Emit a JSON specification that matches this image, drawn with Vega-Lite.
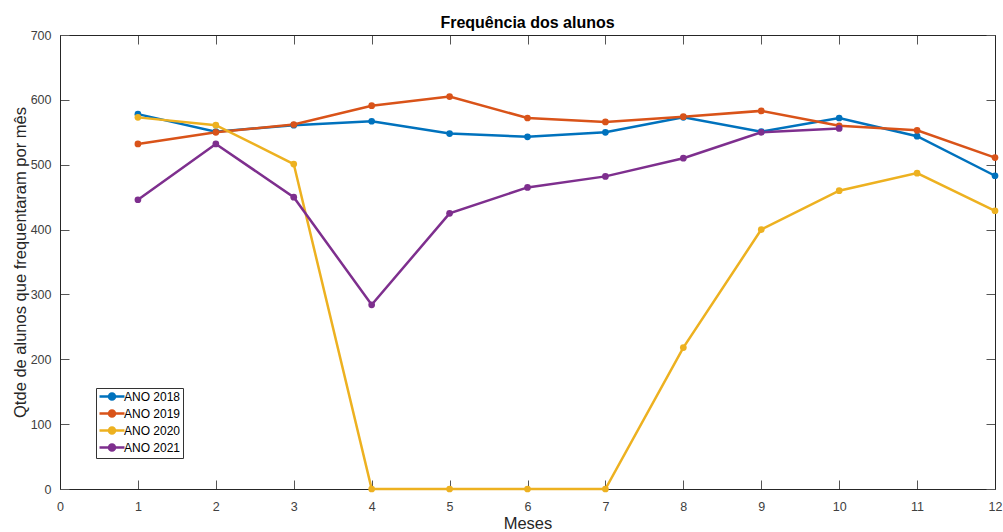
{
  "$schema": "https://vega.github.io/schema/vega-lite/v6.json",
  "width": 935,
  "height": 454,
  "autosize": {"type": "none"},
  "padding": {"left": 60, "top": 35, "right": 8, "bottom": 43},
  "background": "white",
  "config": {
    "font": "Liberation Sans",
    "view": {"stroke": null},
    "axis": {"grid": false, "domainColor": "#262626", "domainWidth": 1, "tickColor": "#555555", "tickSize": -9, "tickWidth": 1, "labelColor": "#404040", "labelFontSize": 12.5, "titleColor": "#262626", "titleFontWeight": "normal", "titleFontSize": 16.5}
  },
  "title": {"text": "Frequência dos alunos", "fontSize": 16, "fontWeight": "bold", "color": "#000000", "offset": -2, "anchor": "middle"},
  "data": {"values": [
    {"mes": 1, "ano": "ANO 2018", "qtd": 578},
    {"mes": 2, "ano": "ANO 2018", "qtd": 551},
    {"mes": 3, "ano": "ANO 2018", "qtd": 561},
    {"mes": 4, "ano": "ANO 2018", "qtd": 567},
    {"mes": 5, "ano": "ANO 2018", "qtd": 548},
    {"mes": 6, "ano": "ANO 2018", "qtd": 543},
    {"mes": 7, "ano": "ANO 2018", "qtd": 550},
    {"mes": 8, "ano": "ANO 2018", "qtd": 573},
    {"mes": 9, "ano": "ANO 2018", "qtd": 551},
    {"mes": 10, "ano": "ANO 2018", "qtd": 572},
    {"mes": 11, "ano": "ANO 2018", "qtd": 544},
    {"mes": 12, "ano": "ANO 2018", "qtd": 483},
    {"mes": 1, "ano": "ANO 2019", "qtd": 532},
    {"mes": 2, "ano": "ANO 2019", "qtd": 550},
    {"mes": 3, "ano": "ANO 2019", "qtd": 562},
    {"mes": 4, "ano": "ANO 2019", "qtd": 591},
    {"mes": 5, "ano": "ANO 2019", "qtd": 605},
    {"mes": 6, "ano": "ANO 2019", "qtd": 572},
    {"mes": 7, "ano": "ANO 2019", "qtd": 566},
    {"mes": 8, "ano": "ANO 2019", "qtd": 574},
    {"mes": 9, "ano": "ANO 2019", "qtd": 583},
    {"mes": 10, "ano": "ANO 2019", "qtd": 560},
    {"mes": 11, "ano": "ANO 2019", "qtd": 553},
    {"mes": 12, "ano": "ANO 2019", "qtd": 511},
    {"mes": 1, "ano": "ANO 2020", "qtd": 573},
    {"mes": 2, "ano": "ANO 2020", "qtd": 561},
    {"mes": 3, "ano": "ANO 2020", "qtd": 501},
    {"mes": 4, "ano": "ANO 2020", "qtd": 0},
    {"mes": 5, "ano": "ANO 2020", "qtd": 0},
    {"mes": 6, "ano": "ANO 2020", "qtd": 0},
    {"mes": 7, "ano": "ANO 2020", "qtd": 0},
    {"mes": 8, "ano": "ANO 2020", "qtd": 218},
    {"mes": 9, "ano": "ANO 2020", "qtd": 400},
    {"mes": 10, "ano": "ANO 2020", "qtd": 460},
    {"mes": 11, "ano": "ANO 2020", "qtd": 487},
    {"mes": 12, "ano": "ANO 2020", "qtd": 429},
    {"mes": 1, "ano": "ANO 2021", "qtd": 446},
    {"mes": 2, "ano": "ANO 2021", "qtd": 532},
    {"mes": 3, "ano": "ANO 2021", "qtd": 450},
    {"mes": 4, "ano": "ANO 2021", "qtd": 284},
    {"mes": 5, "ano": "ANO 2021", "qtd": 425},
    {"mes": 6, "ano": "ANO 2021", "qtd": 465},
    {"mes": 7, "ano": "ANO 2021", "qtd": 482},
    {"mes": 8, "ano": "ANO 2021", "qtd": 510},
    {"mes": 9, "ano": "ANO 2021", "qtd": 550},
    {"mes": 10, "ano": "ANO 2021", "qtd": 556}
  ]},
  "encoding": {
    "x": {"field": "mes", "type": "quantitative", "scale": {"domain": [0, 12], "nice": false, "zero": false}},
    "y": {"field": "qtd", "type": "quantitative", "scale": {"domain": [0, 700], "nice": false}},
    "color": {"field": "ano", "type": "nominal", "scale": {"domain": ["ANO 2018", "ANO 2019", "ANO 2020", "ANO 2021"], "range": ["#0072BD", "#D95319", "#EDB120", "#7E2F8E"]}}
  },
  "layer": [
    {
      "mark": {"type": "line", "strokeWidth": 2.5},
      "encoding": {
        "x": {"field": "mes", "type": "quantitative", "title": "Meses", "axis": {"orient": "bottom", "values": [0,1,2,3,4,5,6,7,8,9,10,11,12], "labelPadding": 20, "titlePadding": 3, "labelFlush": false}},
        "y": {"field": "qtd", "type": "quantitative", "title": "Qtde de alunos que frequentaram por mês", "axis": {"orient": "left", "values": [0,100,200,300,400,500,600,700], "labelPadding": 18, "titlePadding": 2, "labelFlush": false}},
        "color": {"field": "ano", "type": "nominal", "legend": {
          "title": null, "orient": "none", "legendX": 36, "legendY": 353,
          "direction": "vertical",
          "strokeColor": "#333333", "fillColor": "white", "padding": 2,
          "symbolType": "M-1,0L4,0M0.9,0A0.6,0.6,0,1,0,2.1,0A0.6,0.6,0,1,0,0.9,0Z",
          "symbolSize": 100, "symbolStrokeWidth": 2.5, "symbolOffset": 0,
          "labelOffset": 13, "labelFontSize": 12, "labelColor": "#000000", "rowPadding": 0,
          "encode": {"symbols": {"update": {"fill": {"scale": "color", "field": "value"}, "stroke": {"scale": "color", "field": "value"}, "fillOpacity": {"value": 1}, "opacity": {"value": 1}}}}
        }}
      }
    },
    {
      "mark": {"type": "point", "filled": true, "size": 45, "opacity": 1},
      "encoding": {
        "x": {"field": "mes", "type": "quantitative", "axis": {"orient": "top", "values": [0,1,2,3,4,5,6,7,8,9,10,11,12], "labels": false, "title": null}},
        "y": {"field": "qtd", "type": "quantitative", "axis": {"orient": "right", "values": [0,100,200,300,400,500,600,700], "labels": false, "title": null}}
      }
    }
  ],
  "resolve": {"axis": {"x": "independent", "y": "independent"}}
}
